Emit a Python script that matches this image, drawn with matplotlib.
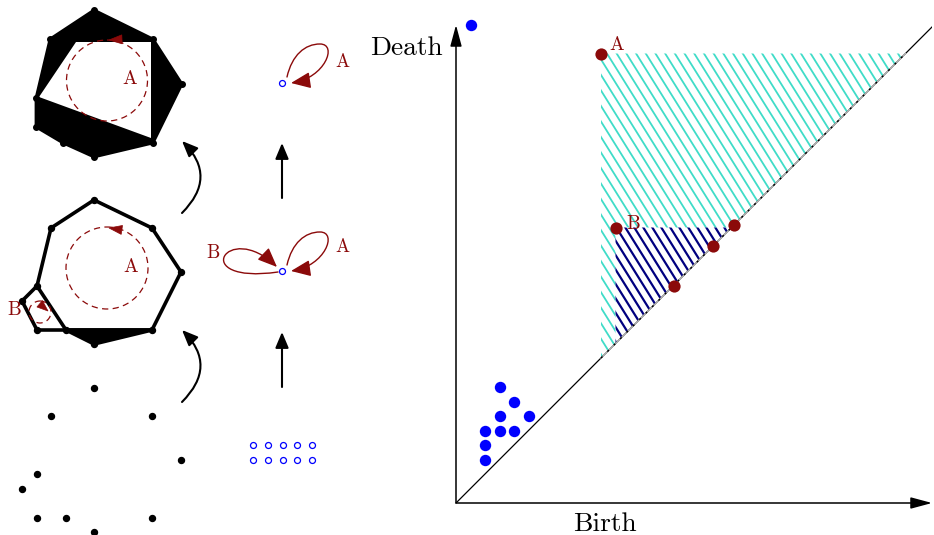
import numpy as np
import matplotlib
matplotlib.use('Agg')
import matplotlib.pyplot as plt
from matplotlib.patches import Polygon, Circle, FancyArrowPatch
from matplotlib.path import Path

# ---- left part: point cloud and complexes (pixel coords) ----
cloud_x = [94, 51, 152, 181, 37, 22, 37, 66, 152, 94]
cloud_y = [388, 416, 416, 460, 474, 489, 518, 518, 518, 532]
mid_shift = 188
mid_edges = [(0, 1), (0, 2), (2, 3), (3, 8), (8, 7), (1, 4), (4, 5), (5, 6), (6, 7), (4, 7)]
mid_tri = [7, 8, 9]

top_hull_x = [94, 153, 182, 153, 94, 63, 36, 36, 50]
top_hull_y = [10, 39, 84, 143, 157, 143, 127, 98, 39]
top_hole_x = [76, 151, 151, 39]
top_hole_y = [42, 42, 138, 97]

# components (open circles) under the filtration
comp_x = [253, 268, 283, 297, 312]
comp_y = [445, 460]
comp_mid = (282, 271)
comp_top = (282, 83)

# ---- persistence diagram (units) ----
h0_birth = [2, 2, 2, 3, 3, 3, 4, 4, 5]
h0_death = [3, 4, 5, 5, 6, 8, 5, 7, 6]
inf_birth = [1]
inf_death = [33]
h1_birth = [10, 11, 15, 17.7, 19.15]
h1_death = [31, 19, 15, 17.7, 19.15]

DARKRED = '#8b0a0a'
CYAN = '#40dcc8'
NAVY = '#00007f'
FONT = 'cmr10'
plt.rcParams['axes.unicode_minus'] = False


def head(ax, tip, direction, length, width, color):
    d = np.array(direction, float)
    d /= np.linalg.norm(d)
    n = np.array([-d[1], d[0]])
    tip = np.array(tip, float)
    base = tip - d * length
    ax.add_patch(Polygon([tip, base + n * width, base - n * width],
                         closed=True, fc=color, ec=color, lw=0.5, zorder=6))


def hatch(ax, poly, color, lw, step, zorder):
    clip = Polygon(poly, closed=True, fc='none', ec='none')
    ax.add_patch(clip)
    for x0 in np.arange(-30, 40, step):
        ln, = ax.plot([x0, x0 + 40 / 1.6], [40, 0], color=color, lw=lw,
                      solid_capstyle='butt', zorder=zorder)
        ln.set_clip_path(clip)


fig = plt.figure(figsize=(9.34, 5.35), dpi=100)
ax = fig.add_axes([0, 0, 1, 1])
ax.set_xlim(0, 934)
ax.set_ylim(535, 0)
ax.axis('off')

# bottom: point cloud
ax.plot(cloud_x, cloud_y, 'o', color='black', ms=4.3, zorder=3)

# middle: complex with two loops
mx = np.array(cloud_x)
my = np.array(cloud_y) - mid_shift
for i, j in mid_edges:
    ax.plot([mx[i], mx[j]], [my[i], my[j]], color='black', lw=2.6,
            solid_capstyle='round', zorder=2)
ax.add_patch(Polygon(np.c_[mx[mid_tri], my[mid_tri]], closed=True, fc='black',
                     ec='black', lw=2.6, joinstyle='round', zorder=2))
ax.plot(mx, my, 'o', color='black', ms=4.3, zorder=3)

# top: complex with one loop left
ax.add_patch(Polygon(np.c_[top_hull_x, top_hull_y], closed=True, fc='black',
                     ec='black', lw=2, joinstyle='round', zorder=2))
ax.add_patch(Polygon(np.c_[top_hole_x, top_hole_y], closed=True, fc='white',
                     ec='none', zorder=2))
ax.plot(top_hull_x, top_hull_y, 'o', color='black', ms=4, zorder=3)

# dashed loops
for c, r in [((107, 80.5), 40.5), ((107, 268), 41), ((40, 312), 11)]:
    ax.add_patch(Circle(c, r, fill=False, ec=DARKRED, lw=0.9, ls=(0, (5, 3.5)), zorder=5))
head(ax, (109, 40), (-1, 0.05), 13, 4.5, DARKRED)
head(ax, (109, 228), (-1, -0.15), 13, 4.5, DARKRED)
head(ax, (48, 311), (0.75, 0.65), 11, 4.2, DARKRED)

txt = dict(fontfamily=FONT, color=DARKRED, ha='center', va='baseline')
ax.text(129.5, 84, 'A', fontsize=14, **txt)
ax.text(130.3, 272, 'A', fontsize=14, **txt)
ax.text(14, 315, 'B', fontsize=14, **txt)

# arrows between the stages
for y0, y1 in [(402, 330), (213, 141)]:
    ax.add_patch(FancyArrowPatch((182, y0), (182, y1), connectionstyle='arc3,rad=0.5',
                                 arrowstyle='-|>,head_length=0.95,head_width=0.4',
                                 mutation_scale=10, color='black', lw=1.5,
                                 shrinkA=0, shrinkB=0, zorder=4))
    ax.add_patch(FancyArrowPatch((282, y0 - 15), (282, y1 + 2),
                                 arrowstyle='-|>,head_length=0.95,head_width=0.4',
                                 mutation_scale=10, color='black', lw=1.5,
                                 shrinkA=0, shrinkB=0, zorder=4))

# components
gx, gy = np.meshgrid(comp_x, comp_y)
ax.plot(gx.ravel(), gy.ravel(), 'o', mfc='white', mec='blue', mew=0.9, ms=4.3, zorder=4)
for c in [comp_mid, comp_top]:
    ax.plot(*c, 'o', mfc='white', mec='blue', mew=0.9, ms=4.3, zorder=4)


def loop_a(cx, cy):
    v = [(cx + 5, cy - 6), (cx + 10, cy - 28), (cx + 23, cy - 39), (cx + 38, cy - 39),
         (cx + 56, cy - 39), (cx + 43, cy - 5), (cx + 9, cy)]
    return Path(v, [Path.MOVETO] + [Path.CURVE4] * 6)


def loop_b(cx, cy):
    v = [(cx - 4, cy + 1), (cx - 95, cy + 14), (cx - 55, cy - 52), (cx - 5, cy - 4)]
    return Path(v, [Path.MOVETO] + [Path.CURVE4] * 3)


loops = [loop_a(*comp_top), loop_a(*comp_mid), loop_b(*comp_mid)]
for p in loops:
    ax.add_patch(FancyArrowPatch(path=p, arrowstyle='-|>,head_length=1.2,head_width=0.5',
                                 mutation_scale=10, color=DARKRED, lw=1.0, zorder=5))
ax.text(342.5, 66.7, 'A', fontsize=13.5, **txt)
ax.text(342.5, 251.7, 'A', fontsize=13.5, **txt)
ax.text(213.3, 258.3, 'B', fontsize=13.5, **txt)

# ---- persistence diagram ----
unit = 14.5
ax2 = fig.add_axes([456 / 934, 32 / 535, 476 / 934, 481 / 535])
xmax, ymax = 476 / unit, 481 / unit
ax2.set_xlim(0, xmax)
ax2.set_ylim(0, ymax)
ax2.axis('off')
ax2.patch.set_alpha(0)

a_b, a_d = h1_birth[0], h1_death[0]
b_b, b_d = h1_birth[1], h1_death[1]
hatch(ax2, [(a_b, a_d), (a_d, a_d), (a_b, a_b)], CYAN, 1.3, 9.7 / unit, 1)
ax2.add_patch(Polygon([(b_b, b_d), (b_d, b_d), (b_b, b_b)], closed=True,
                      fc='white', ec='none', zorder=1.5))
hatch(ax2, [(b_b, b_d), (b_d, b_d), (b_b, b_b)], NAVY, 1.6, 9 / unit, 1.6)

ax2.plot([0, xmax], [0, xmax], color='black', lw=0.9, zorder=2)
ax2.plot([a_b, a_d], [a_b, a_d], color='#b0b0b0', lw=1.0, zorder=2.1)
ax2.plot([a_b, a_d], [a_b, a_d], color='black', lw=1.0, ls=(0, (1.5, 5)), zorder=2.2)

ar = dict(arrowstyle='-|>,head_length=1.3,head_width=0.35', mutation_scale=10,
          color='black', lw=1.1, shrinkA=0, shrinkB=0)
ax2.annotate('', xy=(xmax, 0), xytext=(0, 0), arrowprops=ar, annotation_clip=False)
ax2.annotate('', xy=(0, (503 - 25) / unit), xytext=(0, 0), arrowprops=ar,
             annotation_clip=False)

ax2.plot(h0_birth, h0_death, 'o', color='blue', ms=8.2, mew=0, zorder=3, clip_on=False)
ax2.plot(inf_birth, inf_death, 'o', color='blue', ms=8.2, mew=0, zorder=3, clip_on=False)
ax2.plot(h1_birth, h1_death, 'o', color=DARKRED, ms=8.8, mew=0, zorder=3, clip_on=False)

ax2.annotate('A', xy=(a_b, a_d), xytext=(16, 3.5), textcoords='offset pixels',
             fontsize=14, annotation_clip=False, **txt)
ax2.annotate('B', xy=(b_b, b_d), xytext=(17.3, -1.8), textcoords='offset pixels',
             fontsize=14, annotation_clip=False, **txt)

ax.text(443, 55, 'Death', fontsize=19.8, fontfamily=FONT, ha='right', va='baseline')
ax.text(605, 531, 'Birth', fontsize=19.8, fontfamily=FONT, ha='center', va='baseline')

fig.savefig('out.png', dpi=100)
